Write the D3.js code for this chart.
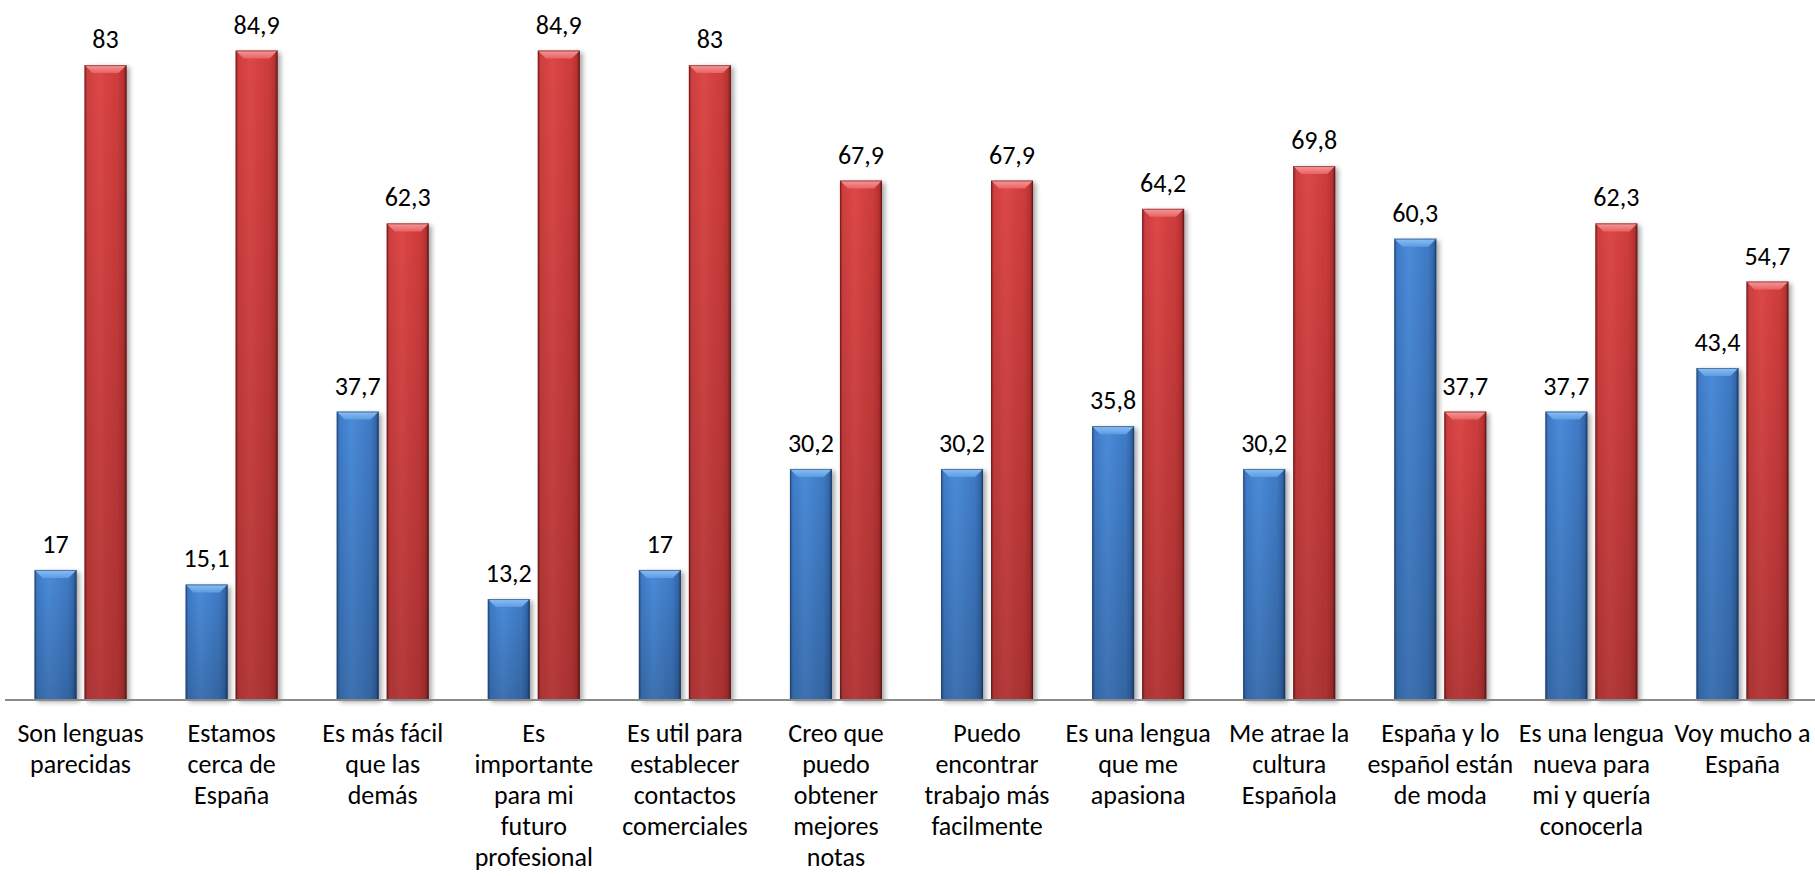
<!DOCTYPE html>
<html>
<head>
<meta charset="utf-8">
<script src="https://cdn.jsdelivr.net/npm/d3@7"></script>
<style>
  html, body { margin: 0; padding: 0; background: #fff; }
  svg { display: block; }
  text { font-family: Carlito, Lato, "Open Sans", sans-serif; fill: #000; }
</style>
</head>
<body>
<svg id="chart" width="1815" height="876"></svg>
<script>
const categories = [
  ["Son lenguas", "parecidas"],
  ["Estamos", "cerca de", "España"],
  ["Es más fácil", "que las", "demás"],
  ["Es", "importante", "para mi", "futuro", "profesional"],
  ["Es util para", "establecer", "contactos", "comerciales"],
  ["Creo que", "puedo", "obtener", "mejores", "notas"],
  ["Puedo", "encontrar", "trabajo más", "facilmente"],
  ["Es una lengua", "que me", "apasiona"],
  ["Me atrae la", "cultura", "Española"],
  ["España y lo", "español están", "de moda"],
  ["Es una lengua", "nueva para", "mi y quería", "conocerla"],
  ["Voy mucho a", "España"]
];
const seriesBlue = [17, 15.1, 37.7, 13.2, 17, 30.2, 30.2, 35.8, 30.2, 60.3, 37.7, 43.4];
const seriesRed  = [83, 84.9, 62.3, 84.9, 83, 67.9, 67.9, 64.2, 69.8, 37.7, 62.3, 54.7];
const seriesKeys = ["blue", "red"];
const yDomain = [0, 90];

const svg = d3.select("#chart");
const W = 1815;
const axisY = 700;

const catIds = categories.map((c, i) => i);
const x0 = d3.scaleBand().domain(catIds).range([5, 1818]).paddingInner(0).paddingOuter(0);
const groupW = 92;
const x1 = d3.scaleBand().domain(seriesKeys).range([0, groupW]).paddingInner(0.16).paddingOuter(0);
const y = d3.scaleLinear().domain(yDomain).range([axisY, 11.5]);

const defs = svg.append("defs");
const palettes = {
  blue: { stops: [["0%", "#2a5590"], ["7%", "#3f7cc8"], ["35%", "#4a8bd9"], ["80%", "#3f7ac4"], ["93%", "#3368ad"], ["100%", "#1f3f6e"]],
          bevelTop: "#8cc0f4", bevelBot: "#5d9be0" },
  red:  { stops: [["0%", "#932424"], ["7%", "#cf3f3f"], ["35%", "#dc4747"], ["80%", "#cc3b3b"], ["93%", "#b83232"], ["100%", "#6e1a1a"]],
          bevelTop: "#f59a9a", bevelBot: "#e86262" }
};
seriesKeys.forEach(k => {
  const g = defs.append("linearGradient").attr("id", "h-" + k).attr("x1", "0").attr("x2", "1").attr("y1", "0").attr("y2", "0");
  palettes[k].stops.forEach(s => g.append("stop").attr("offset", s[0]).attr("stop-color", s[1]));
  const b = defs.append("linearGradient").attr("id", "bv-" + k).attr("x1", "0").attr("x2", "0").attr("y1", "0").attr("y2", "1");
  b.append("stop").attr("offset", "0%").attr("stop-color", palettes[k].bevelTop);
  b.append("stop").attr("offset", "100%").attr("stop-color", palettes[k].bevelBot);
});
const vshade = defs.append("linearGradient").attr("id", "vshade").attr("x1", "0").attr("x2", "0").attr("y1", "0").attr("y2", "1");
vshade.append("stop").attr("offset", "0%").attr("stop-color", "#000").attr("stop-opacity", 0);
vshade.append("stop").attr("offset", "100%").attr("stop-color", "#000").attr("stop-opacity", 0.18);
const shadow = defs.append("filter").attr("id", "shadow").attr("x", "-20%").attr("y", "-5%").attr("width", "150%").attr("height", "115%");
shadow.append("feGaussianBlur").attr("in", "SourceAlpha").attr("stdDeviation", 2.5).attr("result", "blur");
shadow.append("feOffset").attr("in", "blur").attr("dx", 3).attr("dy", 2).attr("result", "off");
shadow.append("feComponentTransfer").attr("in", "off").attr("result", "sh")
  .append("feFuncA").attr("type", "linear").attr("slope", 0.35);
const merge = shadow.append("feMerge");
merge.append("feMergeNode").attr("in", "sh");
merge.append("feMergeNode").attr("in", "SourceGraphic");

const data = [];
categories.forEach((c, i) => {
  data.push({ i, key: "blue", v: seriesBlue[i] });
  data.push({ i, key: "red", v: seriesRed[i] });
});

const bw = x1.bandwidth();
const groupOffset = (x0.bandwidth() - groupW) / 2;

const bars = svg.append("g").selectAll("g.bar").data(data).join("g").attr("class", "bar")
  .attr("transform", d => `translate(${x0(d.i) + groupOffset + x1(d.key)},0)`);

bars.append("rect")
  .attr("x", 0).attr("width", bw)
  .attr("y", d => y(d.v)).attr("height", d => axisY - y(d.v))
  .attr("fill", d => `url(#h-${d.key})`)
  .attr("filter", "url(#shadow)");
bars.append("rect")
  .attr("x", 0).attr("width", bw)
  .attr("y", d => y(d.v)).attr("height", d => axisY - y(d.v))
  .attr("fill", "url(#vshade)");
const bev = 8;
bars.append("path")
  .attr("d", d => {
    const t = y(d.v);
    return `M0,${t} L${bw},${t} L${bw - bev},${t + bev} L${bev},${t + bev} Z`;
  })
  .attr("fill", d => `url(#bv-${d.key})`);
bars.append("rect")
  .attr("x", 0.5).attr("width", bw - 1)
  .attr("y", d => y(d.v) + 0.5).attr("height", d => axisY - y(d.v) - 0.5)
  .attr("fill", "none")
  .attr("stroke", d => d.key === "blue" ? "#1d3c68" : "#5e1515")
  .attr("stroke-opacity", 0.55).attr("stroke-width", 1);

// value labels
svg.append("g").selectAll("text").data(data).join("text")
  .attr("x", d => x0(d.i) + groupOffset + x1(d.key) + bw / 2)
  .attr("y", d => y(d.v) - 17)
  .attr("text-anchor", "middle")
  .attr("font-size", 26)
  .text(d => String(d.v).replace(".", ","));

// axis line
svg.append("line").attr("x1", 5).attr("x2", W).attr("y1", axisY).attr("y2", axisY)
  .attr("stroke", "#8a8a8a").attr("stroke-width", 2);

// category labels
const cl = svg.append("g").selectAll("text").data(categories).join("text")
  .attr("text-anchor", "middle")
  .attr("font-size", 26)
  .attr("x", (d, i) => x0(i) + x0.bandwidth() / 2)
  .attr("y", 742);
cl.selectAll("tspan").data(d => d).join("tspan")
  .attr("x", function() { return d3.select(this.parentNode).attr("x"); })
  .attr("dy", (d, j) => j === 0 ? 0 : 31)
  .text(d => d);
</script>
</body>
</html>
